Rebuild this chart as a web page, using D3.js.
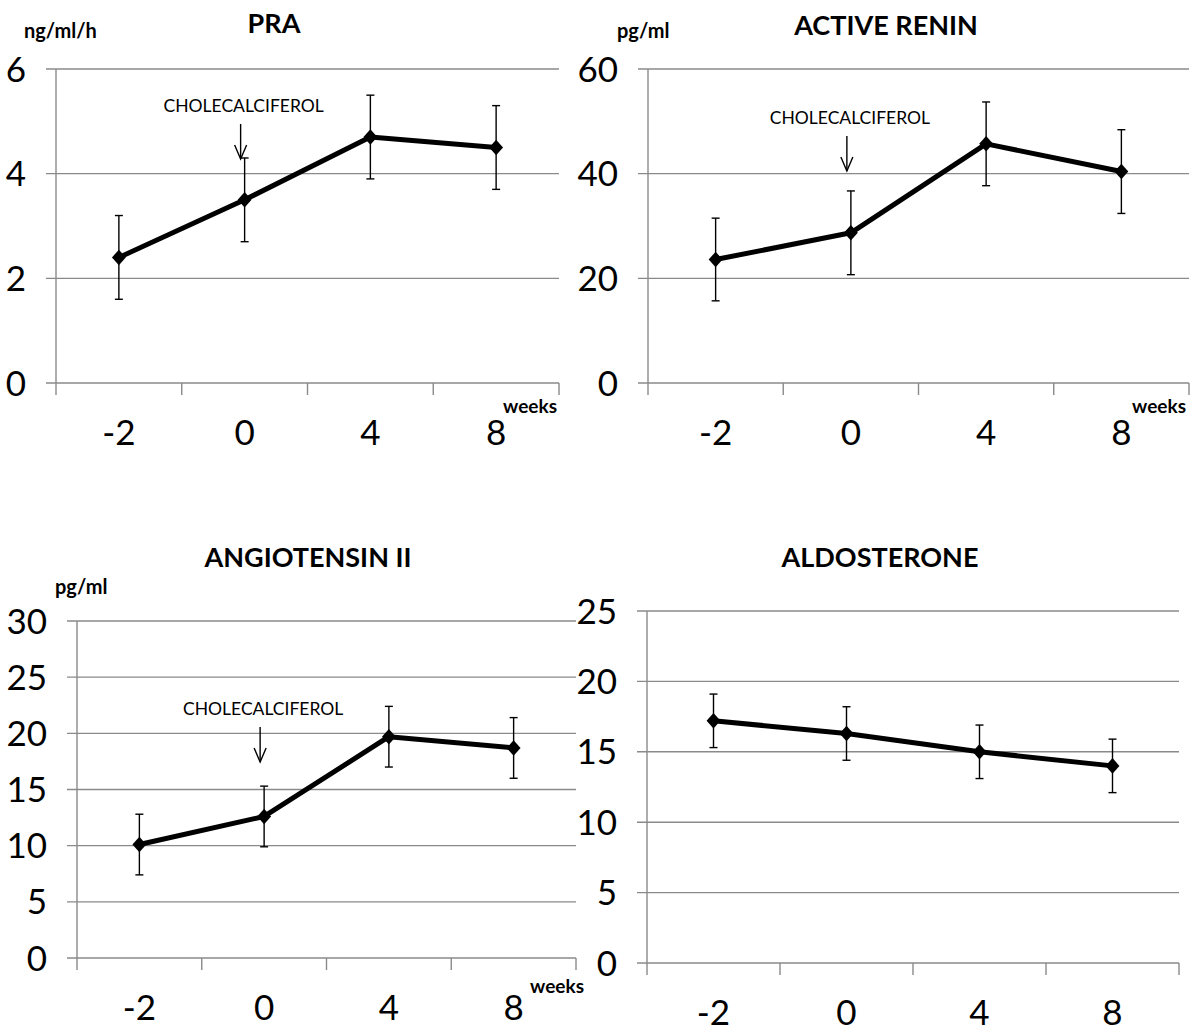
<!DOCTYPE html>
<html>
<head>
<meta charset="utf-8">
<script src="https://cdn.jsdelivr.net/npm/d3@7"></script>
<style>
  body { margin: 0; background: #fff; }
  svg { display: block; }
  text { font-family: Lato, "Open Sans", sans-serif; fill: #000; }
</style>
</head>
<body>
<svg id="chart" width="1201" height="1032"></svg>
<script>
// data (mean and error bar half-length)
const weeks = ['-2', '0', '4', '8'];

const praMean = [2.4, 3.5, 4.7, 4.5];
const praErr = [0.8, 0.8, 0.8, 0.8];
const praTicks = [0, 2, 4, 6];

const reninMean = [23.6, 28.7, 45.7, 40.4];
const reninErr = [7.9, 8, 8, 8];
const reninTicks = [0, 20, 40, 60];

const angMean = [10.1, 12.6, 19.7, 18.7];
const angErr = [2.7, 2.7, 2.7, 2.7];
const angTicks = [0, 5, 10, 15, 20, 25, 30];

const aldoMean = [17.2, 16.3, 15.0, 14.0];
const aldoErr = [1.9, 1.9, 1.9, 1.9];
const aldoTicks = [0, 5, 10, 15, 20, 25];

const svg = d3.select('#chart');
const gridColor = '#8a8a8a';

function drawPanel(p) {
  const x = d3.scaleBand().domain(weeks).range([p.left, p.right]);
  const y = d3.scaleLinear().domain([0, d3.max(p.ticks)]).range([p.bottom, p.top]);
  const g = svg.append('g');

  // horizontal grid lines (they stick out left of the axis like ticks)
  g.selectAll('line.grid')
    .data(p.ticks)
    .enter().append('line')
    .attr('x1', p.left - 10).attr('x2', p.right)
    .attr('y1', d => y(d)).attr('y2', d => y(d))
    .attr('stroke', gridColor).attr('stroke-width', 1.4);

  // y axis line
  g.append('line')
    .attr('x1', p.left).attr('x2', p.left)
    .attr('y1', y(d3.max(p.ticks))).attr('y2', p.bottom)
    .attr('stroke', gridColor).attr('stroke-width', 1.4);

  // y tick labels
  g.selectAll('text.ytick')
    .data(p.ticks)
    .enter().append('text')
    .attr('x', p.left - 30)
    .attr('y', d => y(d))
    .attr('dy', '0.36em')
    .attr('text-anchor', 'end')
    .style('font-size', '35px')
    .text(d => d);

  // x ticks at category edges
  const edges = weeks.map(w => x(w)).concat([p.right]);
  g.selectAll('line.xtick')
    .data(edges)
    .enter().append('line')
    .attr('x1', d => d).attr('x2', d => d)
    .attr('y1', p.bottom).attr('y2', p.bottom + 12)
    .attr('stroke', gridColor).attr('stroke-width', 1.4);

  // x tick labels
  g.selectAll('text.xtick')
    .data(weeks)
    .enter().append('text')
    .attr('x', d => x(d) + x.bandwidth() / 2)
    .attr('y', p.bottom + 62)
    .attr('text-anchor', 'middle')
    .style('font-size', '35px')
    .text(d => d);

  const pts = weeks.map((w, i) => ({
    cx: x(w) + x.bandwidth() / 2, v: p.mean[i], e: p.err[i]
  }));

  // error bars
  const eb = g.selectAll('g.err').data(pts).enter().append('g');
  eb.append('line')
    .attr('x1', d => d.cx).attr('x2', d => d.cx)
    .attr('y1', d => y(d.v + d.e)).attr('y2', d => y(d.v - d.e))
    .attr('stroke', '#000').attr('stroke-width', 1.4);
  eb.append('line')
    .attr('x1', d => d.cx - 4).attr('x2', d => d.cx + 4)
    .attr('y1', d => y(d.v + d.e)).attr('y2', d => y(d.v + d.e))
    .attr('stroke', '#000').attr('stroke-width', 1.4);
  eb.append('line')
    .attr('x1', d => d.cx - 4).attr('x2', d => d.cx + 4)
    .attr('y1', d => y(d.v - d.e)).attr('y2', d => y(d.v - d.e))
    .attr('stroke', '#000').attr('stroke-width', 1.4);

  // mean line
  g.append('path')
    .datum(pts)
    .attr('fill', 'none')
    .attr('stroke', '#000')
    .attr('stroke-width', 5)
    .attr('stroke-linejoin', 'round')
    .attr('d', d3.line().x(d => d.cx).y(d => y(d.v)));

  // diamond markers
  g.selectAll('path.mark')
    .data(pts)
    .enter().append('path')
    .attr('d', d3.symbol(d3.symbolSquare, 96))
    .attr('transform', d => `translate(${d.cx},${y(d.v)}) scale(1,1.12) rotate(45)`)
    .attr('fill', '#000');

  // title
  svg.append('text')
    .attr('x', p.titleX).attr('y', p.titleY)
    .attr('text-anchor', 'middle')
    .style('font-size', '27px').style('font-weight', 'bold')
    .text(p.title);

  if (p.unit) {
    svg.append('text')
      .attr('x', p.unitX).attr('y', p.unitY)
      .style('font-size', '20px').style('font-weight', 'bold')
      .text(p.unit);
  }
  if (p.weeksX) {
    svg.append('text')
      .attr('x', p.weeksX).attr('y', p.bottom + p.weeksDy)
      .attr('text-anchor', 'end')
      .style('font-size', '19px').style('font-weight', 'bold')
      .text('weeks');
  }
  if (p.noteY) {
    const ax = x('0') + x.bandwidth() / 2 - 4;
    svg.append('text')
      .attr('x', ax + 3).attr('y', p.noteY)
      .attr('text-anchor', 'middle')
      .style('font-size', '17.5px')
      .text('CHOLECALCIFEROL');
    const a = svg.append('g').attr('stroke', '#000').attr('stroke-width', 1.4).attr('fill', 'none');
    a.append('line').attr('x1', ax).attr('x2', ax).attr('y1', p.noteY + 12).attr('y2', p.noteY + 47);
    a.append('polyline')
      .attr('points', `${ax - 6},${p.noteY + 33} ${ax},${p.noteY + 47} ${ax + 6},${p.noteY + 33}`);
  }
}

drawPanel({ title: 'PRA', titleX: 274, titleY: 33, unit: 'ng/ml/h', unitX: 24, unitY: 38,
  mean: praMean, err: praErr, ticks: praTicks,
  left: 56, right: 559, top: 69, bottom: 383, weeksX: 557, weeksDy: 30, noteY: 112 });

drawPanel({ title: 'ACTIVE RENIN', titleX: 886, titleY: 35, unit: 'pg/ml', unitX: 617, unitY: 38,
  mean: reninMean, err: reninErr, ticks: reninTicks,
  left: 648, right: 1189, top: 69, bottom: 383, weeksX: 1186, weeksDy: 30, noteY: 124 });

drawPanel({ title: 'ANGIOTENSIN II', titleX: 308, titleY: 567, unit: 'pg/ml', unitX: 55, unitY: 594,
  mean: angMean, err: angErr, ticks: angTicks,
  left: 77, right: 576, top: 621, bottom: 958, weeksX: 584, weeksDy: 35, noteY: 715 });

drawPanel({ title: 'ALDOSTERONE', titleX: 880, titleY: 567,
  mean: aldoMean, err: aldoErr, ticks: aldoTicks,
  left: 647, right: 1179, top: 611, bottom: 963 });
</script>
</body>
</html>
